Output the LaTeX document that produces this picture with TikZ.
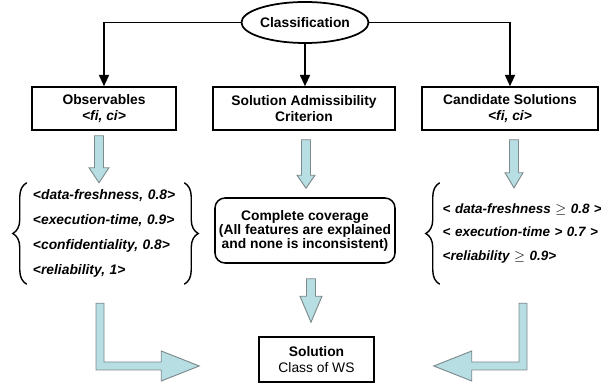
\documentclass[tikz,border=0pt]{standalone}
\usepackage{fontspec}
\setmainfont{Liberation Sans}
\usetikzlibrary{arrows.meta,positioning,calc,fit,shapes.geometric,decorations.pathreplacing}
\definecolor{blockfill}{RGB}{183,222,226}
\definecolor{blockline}{RGB}{125,138,140}
\tikzset{
  box/.style={rectangle, draw=black, line width=1.3pt, align=center, inner sep=2pt,
    minimum height=1.29cm, font=\fontsize{11.8}{13.6}\selectfont\bfseries},
  conn/.style={-{Triangle[length=3.4mm,width=3mm]}, line width=1.5pt},
  block/.style={draw=blockline, fill=blockfill, line width=0.8pt, line join=miter},
  grp/.style={inner ysep=0pt, align=left, minimum height=3.03cm,
    font=\fontsize{11.8}{21.3}\selectfont\bfseries\itshape},
  brace/.style={decorate, decoration={brace, amplitude=0.42cm}, line width=1.2pt},
}
% vertical block arrow: #1 top of shaft, #2 tip height, #3 half head, #4 head length
\newcommand{\dblock}[4]{%
  \draw[block] let \p1=(#1), \p2=(#2) in
    ({\x1-0.135cm},\y1) -- ({\x1+0.135cm},\y1) -- ({\x1+0.135cm},{\y2+#4}) -- ({\x1+#3},{\y2+#4})
    -- (\x1,\y2) -- ({\x1-#3},{\y2+#4}) -- ({\x1-0.135cm},{\y2+#4}) -- cycle;}
% L-shaped block arrow: #1 top of shaft, #2 tip, #3 direction (1 right, -1 left)
\newcommand{\lblock}[3]{%
  \draw[block] let \p1=(#1), \p2=(#2) in
    ({\x1-#3*0.12cm},\y1) -- ({\x1+#3*0.12cm},\y1) -- ({\x1+#3*0.12cm},{\y2+0.12cm})
    -- ({\x2-#3*1.14cm},{\y2+0.12cm}) -- ({\x2-#3*1.14cm},{\y2+0.45cm}) -- (\x2,\y2)
    -- ({\x2-#3*1.14cm},{\y2-0.45cm}) -- ({\x2-#3*1.14cm},{\y2-0.12cm})
    -- ({\x1-#3*0.12cm},{\y2-0.12cm}) -- cycle;}

\begin{document}
\begin{tikzpicture}
  \useasboundingbox (0,0) rectangle (18.03,11.49);
  % classification
  \node[ellipse, draw=black, line width=1.5pt, minimum width=2.94cm, minimum height=1.23cm,
    inner sep=0pt, font=\fontsize{11.8}{13.6}\selectfont\bfseries] (cls) at (9.15,10.815) {Classification};
  % the three parts
  \node[box, minimum width=4.32cm] (obs) at (3.12,8.235) {Observables\\ \textit{<fi, ci>}};
  \node[box, minimum width=5.46cm] (crit) at (9.12,8.235) {Solution Admissibility\\ Criterion};
  \node[box, minimum width=5.28cm] (cand) at (15.3,8.235) {Candidate Solutions\\ \textit{<fi, ci>}};
  \draw[conn] (cls.west) -| (obs.north);
  \draw[conn] (cls.south) -- (cls.south |- crit.north);
  \draw[conn] (cls.east) -| (cand.north);
  % observed features
  \node[grp, inner xsep=0.18cm, text width=4.35cm] (obsgrp) at (3.165,4.485)
    {<data-freshness, 0.8>\\ <execution-time, 0.9>\\ <confidentiality, 0.8>\\ <reliability, 1>};
  \draw[brace] (obsgrp.south west) -- (obsgrp.north west);
  \draw[brace] (obsgrp.north east) -- (obsgrp.south east);
  % admissibility criterion
  \node[rectangle, rounded corners=0.3cm, draw=black, line width=1.3pt, align=center,
    minimum width=5.4cm, minimum height=1.95cm, font=\fontsize{11.8}{12}\selectfont\bfseries]
    (cover) at (9.15,4.575) {Complete coverage\\ (All features are explained\\ and none is inconsistent)};
  % candidate features
  \node[grp, inner xsep=0.08cm, text width=4.8cm,
    font=\fontsize{11.5}{20.4}\selectfont\bfseries\itshape] (candgrp) at (15.68,4.485)
    {< data-freshness {\mdseries$\geq$} 0.8 >\\ < execution-time > 0.7 >\\ <reliability {\mdseries$\geq$} 0.9>};
  \draw[brace] (candgrp.south west) -- (candgrp.north west);
  \draw[brace] (candgrp.north east) -- (candgrp.south east);
  % solution
  \node[box, minimum width=3.45cm, minimum height=1.35cm] (sol) at (9.495,0.705)
    {Solution\\ {\mdseries Class of WS}};
  % block arrows
  \dblock{$(obs.south)+(-0.15,-0.15)$}{obsgrp.north}{0.3cm}{0.45cm}
  \dblock{$(crit.south)+(0.06,-0.27)$}{$(cover.north)+(0,0.27)$}{0.27cm}{0.39cm}
  \dblock{$(cand.south)+(0.12,-0.27)$}{$(candgrp.north)+(0,-0.15)$}{0.27cm}{0.45cm}
  \dblock{$(cover.south)+(0.18,-0.45)$}{$(sol.north)+(0,0.42)$}{0.33cm}{0.78cm}
  \coordinate (ltip) at ($(sol.west)+(-1.77,-0.195)$);
  \coordinate (rtip) at ($(sol.east)+(1.77,-0.195)$);
  \lblock{$(obsgrp.south)+(-0.165,-0.57)$}{ltip}{1}
  \lblock{$(candgrp.south)+(0.01,-0.57)$}{rtip}{-1}
\end{tikzpicture}
\end{document}
